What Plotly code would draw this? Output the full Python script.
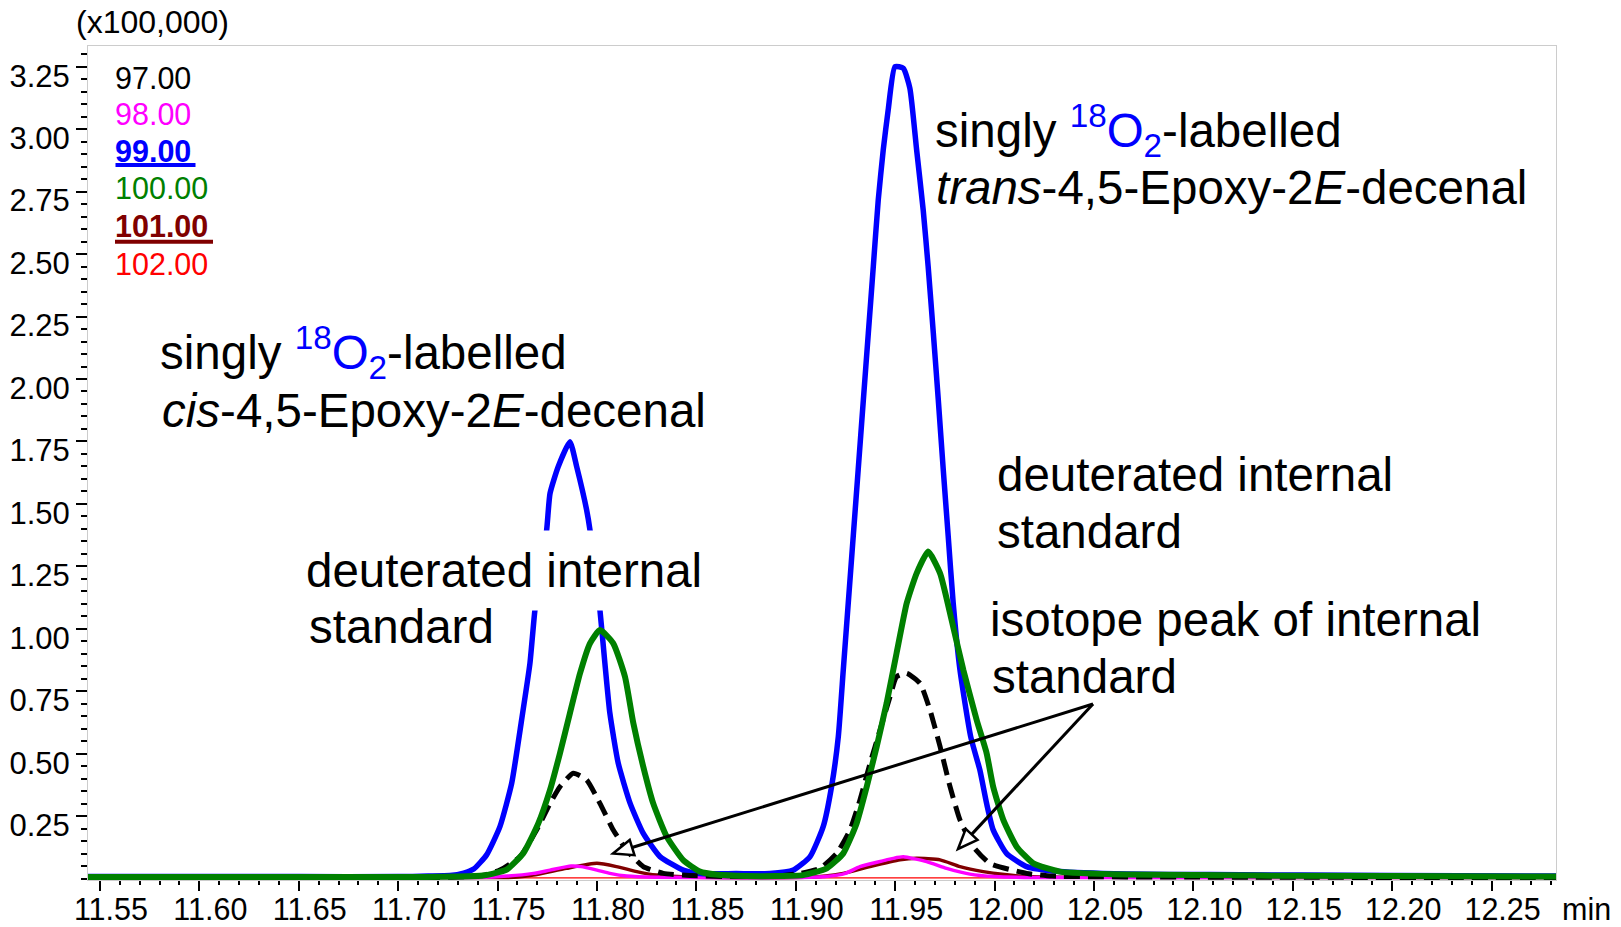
import math
import plotly.graph_objects as go

FONT = "Liberation Sans, Arial, sans-serif"

# ---------------- data (retention time in min, intensity in x100,000) ----------------
t_99 = [11.544, 11.60, 11.65, 11.70, 11.715, 11.726, 11.733, 11.738, 11.7445, 11.7512, 11.7571,
        11.7621, 11.7663, 11.7688, 11.7747, 11.7764, 11.7805, 11.7864, 11.7898, 11.7948, 11.7965,
        11.8015, 11.804, 11.8065, 11.8107, 11.8167, 11.8233, 11.8317, 11.8434, 11.8518, 11.87,
        11.887, 11.8988, 11.9072, 11.9138, 11.918, 11.9214, 11.9239, 11.9264, 11.9289, 11.9314,
        11.934, 11.9365, 11.939, 11.9415, 11.944, 11.9465, 11.9499, 11.9541, 11.9574, 11.9608,
        11.9641, 11.9666, 11.9692, 11.9717, 11.9742, 11.9767, 11.9792, 11.9826, 11.988, 11.9926,
        11.996, 11.9993, 12.006, 12.0161, 12.0329, 12.0664, 12.1083, 12.20, 12.285]
i_99 = [0.008, 0.008, 0.008, 0.008, 0.010, 0.012, 0.022, 0.038, 0.095, 0.208, 0.381,
        0.635, 0.862, 1.075, 1.395, 1.542, 1.649, 1.749, 1.649, 1.476, 1.395,
        1.075, 0.862, 0.662, 0.462, 0.301, 0.181, 0.088, 0.034, 0.020, 0.020,
        0.020, 0.034, 0.088, 0.208, 0.368, 0.568, 0.835, 1.102, 1.369, 1.636,
        1.916, 2.183, 2.450, 2.717, 2.917, 3.077, 3.250, 3.244, 3.164, 2.917,
        2.677, 2.450, 2.183, 1.916, 1.636, 1.369, 1.102, 0.835, 0.568, 0.435,
        0.301, 0.195, 0.101, 0.048, 0.028, 0.018, 0.016, 0.012, 0.010]

t_100 = [11.544, 11.70, 11.73, 11.7428, 11.7478, 11.7546, 11.7629, 11.7705, 11.7764, 11.7814,
         11.7864, 11.7915, 11.7965, 11.8015, 11.8082, 11.8141, 11.8183, 11.8233, 11.8283, 11.8351,
         11.8434, 11.8518, 11.86, 11.875, 11.89, 11.9038, 11.9156, 11.9239, 11.9306, 11.9357,
         11.9407, 11.9457, 11.9507, 11.9558, 11.9608, 11.9666, 11.9726, 11.9784, 11.9843, 11.991,
         11.996, 11.9993, 12.0044, 12.0111, 12.0195, 12.0329, 12.0664, 12.20, 12.285]
i_100 = [0.006, 0.006, 0.008, 0.012, 0.020, 0.036, 0.101, 0.221, 0.355, 0.502,
         0.662, 0.822, 0.942, 0.995, 0.942, 0.808, 0.622, 0.448, 0.301, 0.168,
         0.074, 0.028, 0.016, 0.010, 0.010, 0.014, 0.041, 0.101, 0.221, 0.368,
         0.528, 0.702, 0.902, 1.102, 1.222, 1.309, 1.222, 1.035, 0.835, 0.635,
         0.502, 0.368, 0.235, 0.128, 0.061, 0.028, 0.016, 0.010, 0.008]

t_97 = [11.544, 11.72, 11.735, 11.743, 11.7512, 11.7613, 11.7697, 11.7764, 11.7814, 11.7881,
        11.7948, 11.8015, 11.8082, 11.8149, 11.8233, 11.8334, 11.8468, 11.87, 11.89, 11.9022,
        11.9122, 11.9206, 11.9273, 11.9323, 11.9374, 11.9424, 11.9474, 11.9507, 11.9558, 11.9625,
        11.9675, 11.9726, 11.9776, 11.9826, 11.9893, 11.9976, 12.0161, 12.029, 12.10, 12.285]
i_97 = [0.004, 0.004, 0.008, 0.014, 0.034, 0.088, 0.195, 0.301, 0.368, 0.422,
        0.395, 0.301, 0.195, 0.114, 0.048, 0.021, 0.012, 0.008, 0.010, 0.021,
        0.041, 0.101, 0.195, 0.315, 0.462, 0.595, 0.728, 0.808, 0.822, 0.782,
        0.675, 0.528, 0.368, 0.235, 0.128, 0.061, 0.021, 0.010, 0.006, 0.004]

t_98 = [11.544, 11.74, 11.755, 11.768, 11.7764, 11.787, 11.792, 11.80, 11.8065, 11.815,
        11.83, 11.90, 11.915, 11.925, 11.9323, 11.9491, 11.9541, 11.9658, 11.9759, 11.9876,
        12.00, 12.02, 12.285]
i_98 = [0.004, 0.004, 0.010, 0.021, 0.034, 0.050, 0.048, 0.034, 0.021, 0.010,
        0.005, 0.004, 0.008, 0.021, 0.048, 0.081, 0.087, 0.068, 0.041, 0.018,
        0.008, 0.004, 0.004]

t_101 = [11.544, 11.75, 11.76, 11.768, 11.7847, 11.80, 11.8098, 11.82, 11.83, 11.845,
         11.90, 11.915, 11.9239, 11.9374, 11.9524, 11.9608, 11.9726, 11.9826, 11.9943, 12.005,
         12.0161, 12.04, 12.285]
i_101 = [0.004, 0.004, 0.006, 0.014, 0.041, 0.061, 0.048, 0.028, 0.014, 0.006,
         0.004, 0.010, 0.021, 0.048, 0.075, 0.081, 0.075, 0.048, 0.028, 0.016,
         0.008, 0.005, 0.004]

t_102 = [11.544, 12.285]
i_102 = [0.003, 0.003]

x_ticks = [11.55, 11.60, 11.65, 11.70, 11.75, 11.80, 11.85, 11.90, 11.95, 12.00,
           12.05, 12.10, 12.15, 12.20, 12.25]
y_ticks = [0.25, 0.50, 0.75, 1.00, 1.25, 1.50, 1.75, 2.00, 2.25, 2.50, 2.75, 3.00, 3.25]
legend_labels = ["97.00", "98.00", "99.00", "100.00", "101.00", "102.00"]

# ---------------- figure ----------------
W, H = 1621, 927
L, R, T, B = 88, 65, 46, 47
PW, PH = W - L - R, H - T - B


def px(xp):
    return (xp - L) / PW


def py(yp):
    return (H - B - yp) / PH


fig = go.Figure()

series = [
    (t_102, i_102, "#ff0000", 1.2, "solid"),
    (t_101, i_101, "#800000", 3.5, "solid"),
    (t_98, i_98, "#ff00ff", 3.5, "solid"),
    (t_99, i_99, "#0000ff", 5.5, "solid"),
    (t_97, i_97, "#000000", 5, "16px,8px"),
    (t_100, i_100, "#008000", 6, "solid"),
]
for (t, v, c, w, d), name in zip(series, ["102.00", "101.00", "98.00", "99.00", "97.00", "100.00"]):
    fig.add_trace(go.Scatter(x=t, y=v, mode="lines", name=name, hoverinfo="skip",
                             line=dict(color=c, width=w, dash=d, shape="spline", smoothing=0.5)))

fig.update_layout(
    width=W, height=H, margin=dict(l=L, r=R, t=T, b=B, autoexpand=False),
    paper_bgcolor="white", plot_bgcolor="white", showlegend=False,
    font=dict(family=FONT, color="black"),
)
fig.update_xaxes(
    range=[11.544, 12.2824], tickmode="array", tickvals=x_ticks,
    ticktext=[f"{v:.2f}" for v in x_ticks], automargin=False,
    ticks="outside", ticklen=10, tickwidth=2, tickcolor="black",
    showline=True, linecolor="#cccccc", linewidth=1, mirror=True,
    showgrid=False, zeroline=False, tickfont=dict(size=30.5, family=FONT, color="black"),
    ticklabelshift=11, ticklabelstandoff=-8,
    minor=dict(tickmode="linear", tick0=11.55, dtick=0.01, ticks="outside", ticklen=4,
               tickwidth=1.5, tickcolor="black", showgrid=False),
)
fig.update_yaxes(
    range=[-0.0056, 3.333], tickmode="array", tickvals=y_ticks,
    ticktext=[f"{v:.2f}" for v in y_ticks], automargin=False,
    ticks="outside", ticklen=11, tickwidth=2, tickcolor="black",
    showline=True, linecolor="#cccccc", linewidth=1, mirror=True,
    showgrid=False, zeroline=False, tickfont=dict(size=31, family=FONT, color="black"),
    ticklabelshift=9,
    minor=dict(tickmode="linear", tick0=0, dtick=0.05, ticks="outside", ticklen=6,
               tickwidth=1.5, tickcolor="black", showgrid=False),
)


def label(text, xp, baseline, size, color="black", anchor="left", bg=None, pad=1):
    center = baseline - 0.3465 * size
    fig.add_annotation(x=px(xp), y=py(center), xref="paper", yref="paper", text=text,
                       showarrow=False, xanchor=anchor, yanchor="middle", align="left",
                       font=dict(size=size, color=color, family=FONT),
                       bgcolor=bg, borderpad=pad)


BLUE18 = '<span style="color:#0000ff"><sup>18</sup>O<sub>2</sub></span>'
AF = 47.5
# trans annotation
label("singly " + BLUE18 + "-labelled", 933, 146.7, AF)
label("<i>trans</i>-4,5-Epoxy-2<i>E</i>-decenal", 934, 204, AF)
# cis annotation
label("singly " + BLUE18 + "-labelled", 158, 368.5, AF)
label("<i>cis</i>-4,5-Epoxy-2<i>E</i>-decenal", 160, 427, AF)
# deuterated IS (left) with white background hiding the blue line
label("deuterated internal", 305 - 13, 586.7, AF, bg="white", pad=13)
label("standard", 307, 643.3, AF)
# deuterated IS (right)
label("deuterated internal", 995, 491, AF)
label("standard", 995, 548, AF)
# isotope peak
label("isotope peak of internal", 988, 636, AF)
label("standard", 990, 693, AF)

# legend of m/z traces
leg_colors = ["#000000", "#ff00ff", "#0000ff", "#008000", "#800000", "#ff0000"]
leg_y = [78.5, 113.5, 151, 188.3, 226, 263.5]
for lab, c, yy in zip(legend_labels, leg_colors, leg_y):
    txt = f"<b>{lab}</b>" if lab in ("99.00", "101.00") else lab
    fig.add_annotation(x=px(114), y=py(yy), xref="paper", yref="paper", text=txt,
                       showarrow=False, xanchor="left", yanchor="middle",
                       font=dict(size=30.5, color=c, family=FONT), borderpad=0)
fig.add_shape(type="line", xref="paper", yref="paper", x0=px(115.5), x1=px(195.5),
              y0=py(165), y1=py(165), line=dict(color="#0000ff", width=4))
fig.add_shape(type="line", xref="paper", yref="paper", x0=px(115), x1=px(213),
              y0=py(241.7), y1=py(241.7), line=dict(color="#800000", width=4))

# axis unit texts
fig.add_annotation(x=px(152.5), y=py(22.5), xref="paper", yref="paper", text="(x100,000)",
                   showarrow=False, xanchor="center", yanchor="middle",
                   font=dict(size=32, color="black", family=FONT))
fig.add_annotation(x=px(1586), y=py(909), xref="paper", yref="paper", text="min",
                   showarrow=False, xanchor="center", yanchor="middle",
                   font=dict(size=30.5, color="black", family=FONT))

# arrows with open (white) heads
ORIGIN = (1093, 704)
TIPS = [(613, 853.5), (958, 849)]
HL, HW = 20, 8
for tx, ty in TIPS:
    dx, dy = tx - ORIGIN[0], ty - ORIGIN[1]
    n = math.hypot(dx, dy)
    ux, uy = dx / n, dy / n
    bx, by = tx - HL * ux, ty - HL * uy
    nx, ny = -uy, ux
    fig.add_shape(type="line", xref="paper", yref="paper",
                  x0=px(ORIGIN[0]), y0=py(ORIGIN[1]), x1=px(bx), y1=py(by),
                  line=dict(color="black", width=3))
    p1 = (bx + HW * nx, by + HW * ny)
    p2 = (bx - HW * nx, by - HW * ny)
    path = (f"M {px(tx)},{py(ty)} L {px(p1[0])},{py(p1[1])} "
            f"L {px(p2[0])},{py(p2[1])} Z")
    fig.add_shape(type="path", xref="paper", yref="paper", path=path,
                  fillcolor="white", line=dict(color="black", width=2.5))

fig.write_html("out.html")
